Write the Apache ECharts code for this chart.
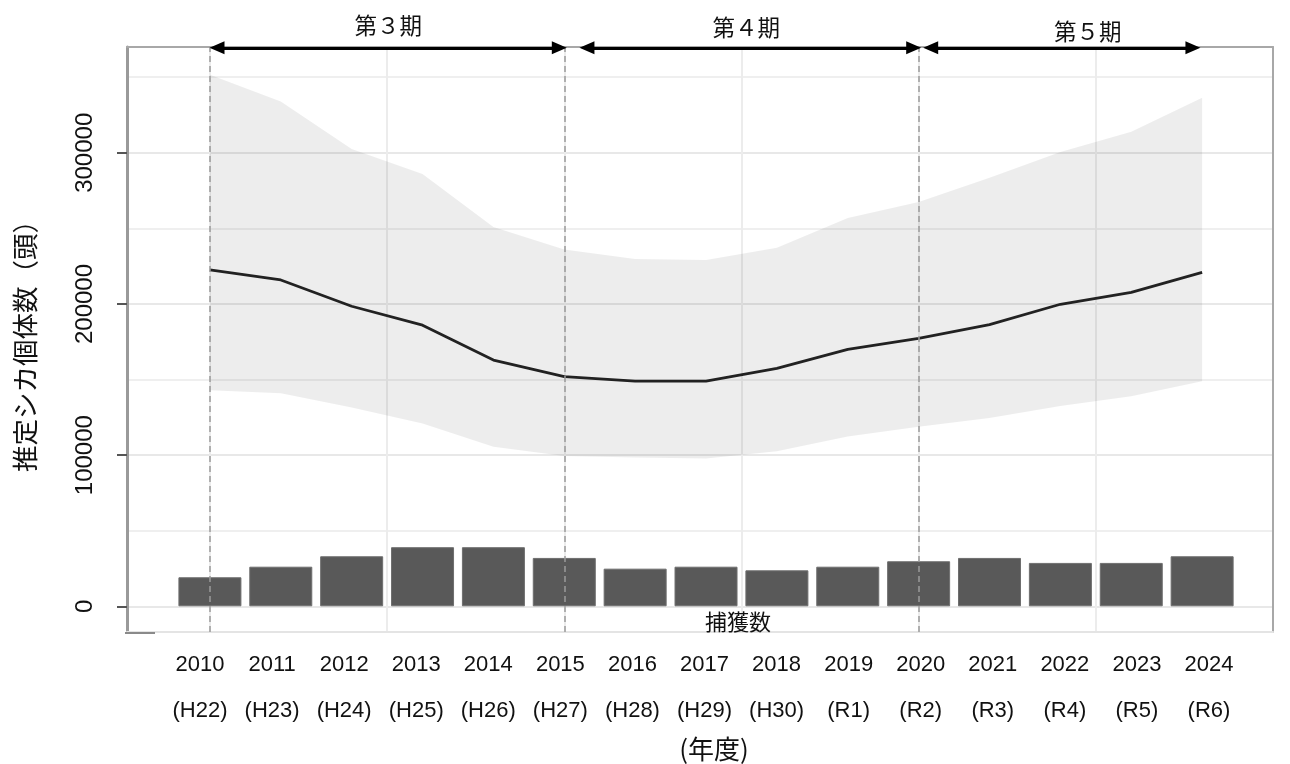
<!DOCTYPE html>
<html>
<head>
<meta charset="utf-8">
<script src="https://cdn.jsdelivr.net/npm/echarts@6/dist/echarts.min.js"></script>
<style>
html,body{margin:0;padding:0;background:#fff;}
#chart{width:1290px;height:764px;}
</style>
</head>
<body>
<div id="chart"></div>
<script>
// ---- data ----
const years = [2010, 2011, 2012, 2013, 2014, 2015, 2016, 2017, 2018, 2019, 2020, 2021, 2022, 2023, 2024];
const yearLabels = ['2010','2011','2012','2013','2014','2015','2016','2017','2018','2019','2020','2021','2022','2023','2024'];
const eraLabels = ['(H22)','(H23)','(H24)','(H25)','(H26)','(H27)','(H28)','(H29)','(H30)','(R1)','(R2)','(R3)','(R4)','(R5)','(R6)'];
const estimate = [222500, 215900, 198500, 186000, 162900, 152000, 149000, 149000, 157400, 170000, 177300, 186300, 199800, 207700, 220900];
const ciUpper  = [351700, 334000, 302500, 286000, 251000, 236000, 229800, 229100, 237200, 256800, 267500, 283500, 300500, 314000, 336400];
const ciLower  = [143000, 141000, 131500, 121000, 105500, 99500, 98500, 97800, 102500, 112300, 118700, 124500, 132500, 139000, 148800];
const captures = [19200, 26200, 33100, 39100, 39100, 32000, 24900, 26200, 23800, 26200, 29800, 32000, 28700, 28700, 33100];
const yTicks = [0, 100000, 200000, 300000];
const yMinorTicks = [50000, 150000, 250000, 350000];
const xGridValues = [2010, 2012.5, 2015, 2017.5, 2020, 2022.5];
const boundaryYears = [2010, 2015, 2020];
const periodNames = ['第３期', '第４期', '第５期'];
const periodStart = [2010.1, 2015.32, 2020.17];
const periodEnd = [2014.93, 2019.93, 2023.87];
const yAxisTitle = '推定シカ個体数（頭）';
const xAxisTitle = '(年度)';
const barTitle = '捕獲数';

const NUMF = '"Liberation Sans", Arial, sans-serif';
const CJK = '"Noto Sans CJK JP", "Noto Sans", sans-serif';

const Y_MIN = -17000, Y_MAX = 370000;
const ARROW_Y = 369500;

const chart = echarts.init(document.getElementById('chart'));

const arrowData = periodNames.map((name, i) => [
  { coord: [periodStart[i], ARROW_Y], name: name },
  { coord: [periodEnd[i], ARROW_Y] }
]);
const labelTweaks = [
  { distance: 11, padding: [0, 0, 0, 0] },
  { distance: 9, padding: [0, 8, 0, 0] },
  { distance: 5, padding: [0, 0, 0, 52] }
];
arrowData.forEach((d, i) => {
  d[0].label = { distance: labelTweaks[i].distance, padding: labelTweaks[i].padding };
});

const option = {
  backgroundColor: '#ffffff',
  animation: false,
  grid: { left: 127, right: 17, top: 47, bottom: 132, containLabel: false },
  xAxis: [
    {
      type: 'value', position: 'top', min: 2008.83, max: 2025,
      axisLine: { show: true, onZero: false, lineStyle: { color: '#a8a8a8', width: 2 } },
      axisTick: { show: false, customValues: xGridValues },
      axisLabel: { show: false },
      splitLine: { show: true, lineStyle: { color: '#ececec', width: 2 } }
    },
    {
      type: 'value', position: 'bottom', min: -1.013, max: 14.888,
      axisLine: { show: true, onZero: false, lineStyle: { color: '#e4e4e4', width: 2 } },
      axisTick: { show: false, customValues: years.map((y, i) => i) },
      axisLabel: {
        show: true, customValues: years.map((y, i) => i), margin: 10,
        formatter: v => yearLabels[v] + '\n' + eraLabels[v],
        fontFamily: NUMF, fontSize: 22, lineHeight: 46, color: '#111'
      },
      splitLine: { show: false }
    }
  ],
  yAxis: [
    {
      type: 'value', position: 'left', min: Y_MIN, max: Y_MAX,
      name: yAxisTitle, nameLocation: 'middle', nameGap: 89, nameRotate: 90,
      nameTextStyle: { fontFamily: CJK, fontSize: 26.5, color: '#111' },
      axisLine: { show: true, onZero: false, lineStyle: { color: '#9a9a9a', width: 3 } },
      axisTick: { show: true, customValues: yTicks, length: 10, lineStyle: { color: '#555', width: 2 } },
      axisLabel: { show: true, customValues: yTicks, rotate: 90, margin: 30, fontFamily: NUMF, fontSize: 24, color: '#111', formatter: v => String(v) },
      splitLine: { show: true, lineStyle: { color: '#e8e8e8', width: 2 } }
    },
    {
      type: 'value', position: 'right', min: Y_MIN, max: Y_MAX,
      axisLine: { show: true, onZero: false, lineStyle: { color: '#a8a8a8', width: 2 } },
      axisTick: { show: false, customValues: yMinorTicks },
      axisLabel: { show: false },
      splitLine: { show: true, lineStyle: { color: '#efefef', width: 2 } }
    }
  ],
  series: [
    {
      name: 'ci', type: 'custom', xAxisIndex: 0, yAxisIndex: 0, silent: true, z: 1,
      data: years.map((y, i) => [y, ciLower[i], ciUpper[i]]),
      encode: { x: 0, y: [1, 2] },
      renderItem: function (params, api) {
        if (params.dataIndex !== 0) return null;
        const top = years.map((y, i) => api.coord([y, ciUpper[i]]));
        const bot = years.map((y, i) => api.coord([y, ciLower[i]])).reverse();
        return {
          type: 'polygon',
          shape: { points: top.concat(bot) },
          style: { fill: 'rgba(0,0,0,0.07)' }
        };
      }
    },
    {
      name: barTitle, type: 'bar', xAxisIndex: 0, yAxisIndex: 0, z: 2,
      barWidth: 63,
      data: years.map((y, i) => [y, captures[i]]),
      itemStyle: { color: '#595959', borderColor: '#6e6e6e', borderWidth: 1 },
      markLine: {
        silent: true, symbol: ['none', 'none'], z: 5,
        label: { show: false },
        lineStyle: { color: '#9a9a9a', width: 1.5, type: [6, 4] },
        data: boundaryYears.map(y => ({ xAxis: y }))
      }
    },
    {
      name: 'estimate', type: 'line', xAxisIndex: 0, yAxisIndex: 0, z: 4,
      clip: false, symbol: 'none',
      data: years.map((y, i) => [y, estimate[i]]),
      lineStyle: { color: '#222222', width: 2.8 },
      markLine: {
        silent: true, z: 6,
        symbol: ['triangle', 'triangle'], symbolSize: [13, 15],
        lineStyle: { color: '#000', width: 3, type: 'solid' },
        label: {
          show: true, position: 'middle', formatter: p => p.name,
          fontFamily: CJK, fontSize: 22.5, color: '#111'
        },
        data: arrowData
      }
    }
  ],
  graphic: [
    { type: 'line', shape: { x1: 125, y1: 633, x2: 155, y2: 633 }, style: { stroke: '#8a8a8a', lineWidth: 2 }, z: 10 },
    { type: 'text', x: 738, y: 622, style: { text: barTitle, fontFamily: CJK, fontSize: 22, fill: '#111', textAlign: 'center', textVerticalAlign: 'middle' }, z: 10 },
    { type: 'text', x: 714, y: 749, style: { text: xAxisTitle, fontFamily: CJK, fontSize: 26, fill: '#111', textAlign: 'center', textVerticalAlign: 'middle' }, z: 10 }
  ]
};
chart.setOption(option);
</script>
</body>
</html>
